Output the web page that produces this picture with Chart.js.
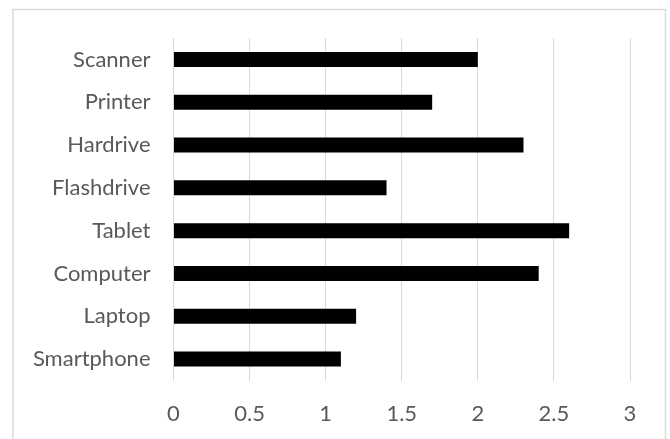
<!DOCTYPE html>
<html>
<head>
<meta charset="utf-8">
<script src="https://cdn.jsdelivr.net/npm/chart.js@4/dist/chart.umd.min.js"></script>
<style>
  html, body { margin: 0; padding: 0; background: #ffffff; }
  #wrap { position: relative; width: 670px; height: 439px; }
</style>
</head>
<body>
<div id="wrap"><canvas id="chart" width="670" height="439"></canvas></div>
<script>
// Devices, top to bottom as listed on the axis
const devices = ["Scanner", "Printer", "Hardrive", "Flashdrive", "Tablet", "Computer", "Laptop", "Smartphone"];
const amounts = [2, 1.7, 2.3, 1.4, 2.6, 2.4, 1.2, 1.1];
const xTicks = [0, 0.5, 1, 1.5, 2, 2.5, 3];

const GRID = "#d9d9d9";
const TEXT = "#595959";
const FONT = "Lato, 'Open Sans', sans-serif";

// White panel with the thin grey frame around the chart
const framePlugin = {
  id: "frame",
  beforeDraw(chart) {
    const ctx = chart.ctx;
    ctx.save();
    ctx.fillStyle = "#ffffff";
    ctx.fillRect(0, 0, chart.width, chart.height);
    ctx.strokeStyle = GRID;
    ctx.lineWidth = 1.5;
    ctx.strokeRect(13, 9.5, 652.5, 440);
    ctx.restore();
  },
};

new Chart(document.getElementById("chart"), {
  type: "bar",
  data: {
    labels: devices,
    datasets: [{
      data: amounts,
      backgroundColor: "#000000",
      borderWidth: 0,
      barPercentage: 0.35,
      categoryPercentage: 1,
    }],
  },
  options: {
    indexAxis: "y",
    responsive: false,
    animation: false,
    layout: { padding: { top: 38, right: 40, bottom: 0, left: 0 } },
    plugins: {
      legend: { display: false },
      tooltip: { enabled: false },
    },
    scales: {
      x: {
        min: 0,
        max: 3,
        afterBuildTicks: (scale) => {
          scale.ticks = xTicks.map((v) => ({ value: v }));
        },
        afterFit: (scale) => { scale.height = 58.5; },
        grid: { color: GRID, lineWidth: 1, drawTicks: false },
        border: { display: false },
        ticks: {
          color: TEXT,
          font: { family: FONT, size: 22 },
          padding: 20,
          callback: (v) => String(v),
        },
      },
      y: {
        afterFit: (scale) => { scale.width = 173.5; },
        grid: { display: false, drawTicks: false },
        border: { display: true, color: GRID, width: 1 },
        ticks: {
          color: TEXT,
          font: { family: FONT, size: 22 },
          padding: 23,
        },
      },
    },
  },
  plugins: [framePlugin],
});
</script>
</body>
</html>
